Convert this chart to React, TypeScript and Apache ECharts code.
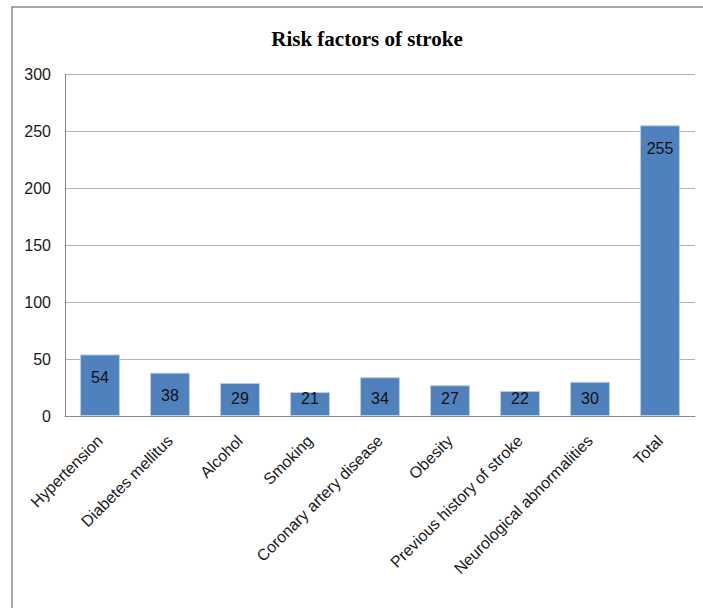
import React, { useEffect, useRef } from "react";
import * as echarts from "echarts";

const titleText = "Risk factors of stroke";
const categories = [
  "Hypertension",
  "Diabetes mellitus",
  "Alcohol",
  "Smoking",
  "Coronary artery disease",
  "Obesity",
  "Previous history of stroke",
  "Neurological abnormalities",
  "Total",
];
const values = [54, 38, 29, 21, 34, 27, 22, 30, 255];
const yTicks = { min: 0, max: 300, interval: 50 };

const FONT = "'Liberation Sans', Arial, sans-serif";

export default function App() {
  const ref = useRef<HTMLDivElement>(null);
  useEffect(() => {
    if (!ref.current) return;
    const chart = echarts.init(ref.current, null, { renderer: "svg" });
    chart.setOption({
      animation: false,
      backgroundColor: "#ffffff",
      title: {
        text: titleText,
        left: 362,
        top: 23,
        textAlign: "center",
        textStyle: {
          fontFamily: "'Liberation Serif', 'Times New Roman', serif",
          fontWeight: "bold",
          fontSize: 21,
          color: "#000000",
        },
      },
      graphic: [
        {
          type: "polyline",
          shape: { points: [[12, 608], [12, 7], [703, 7]] },
          style: { stroke: "#8a8a8a", lineWidth: 1.5, fill: "none" },
          silent: true,
        },
      ],
      grid: { left: 65, top: 74, right: 8, bottom: 192, containLabel: false },
      xAxis: {
        type: "category",
        data: categories,
        axisLine: { show: true, lineStyle: { color: "#868686", width: 1 } },
        axisTick: { show: false },
        axisLabel: {
          interval: 0,
          rotate: 45,
          margin: 22,
          fontSize: 16,
          fontFamily: FONT,
          color: "#1a1a1a",
        },
      },
      yAxis: {
        type: "value",
        min: yTicks.min,
        max: yTicks.max,
        interval: yTicks.interval,
        axisLine: { show: true, lineStyle: { color: "#868686", width: 1 } },
        axisTick: { show: false },
        splitLine: { show: true, lineStyle: { color: "#b3b3b3", width: 1 } },
        axisLabel: {
          margin: 14,
          fontSize: 16,
          fontFamily: FONT,
          color: "#1a1a1a",
        },
      },
      series: [
        {
          type: "bar",
          barWidth: "57%",
          data: values.map((v) => ({
            value: v,
            label: {
              position: v < 36 ? "insideBottom" : "insideTop",
              distance: v < 36 ? 10 : 15,
            },
          })),
          itemStyle: {
            color: "#4f81bd",
            borderColor: "#b9cde5",
            borderWidth: 1,
          },
          label: {
            show: true,
            fontSize: 16,
            fontFamily: FONT,
            color: "#111111",
          },
        },
      ],
    });
    return () => chart.dispose();
  }, []);
  return (
    <div
      ref={ref}
      style={{ position: "fixed", left: 0, top: 0, width: 703, height: 608 }}
    />
  );
}
